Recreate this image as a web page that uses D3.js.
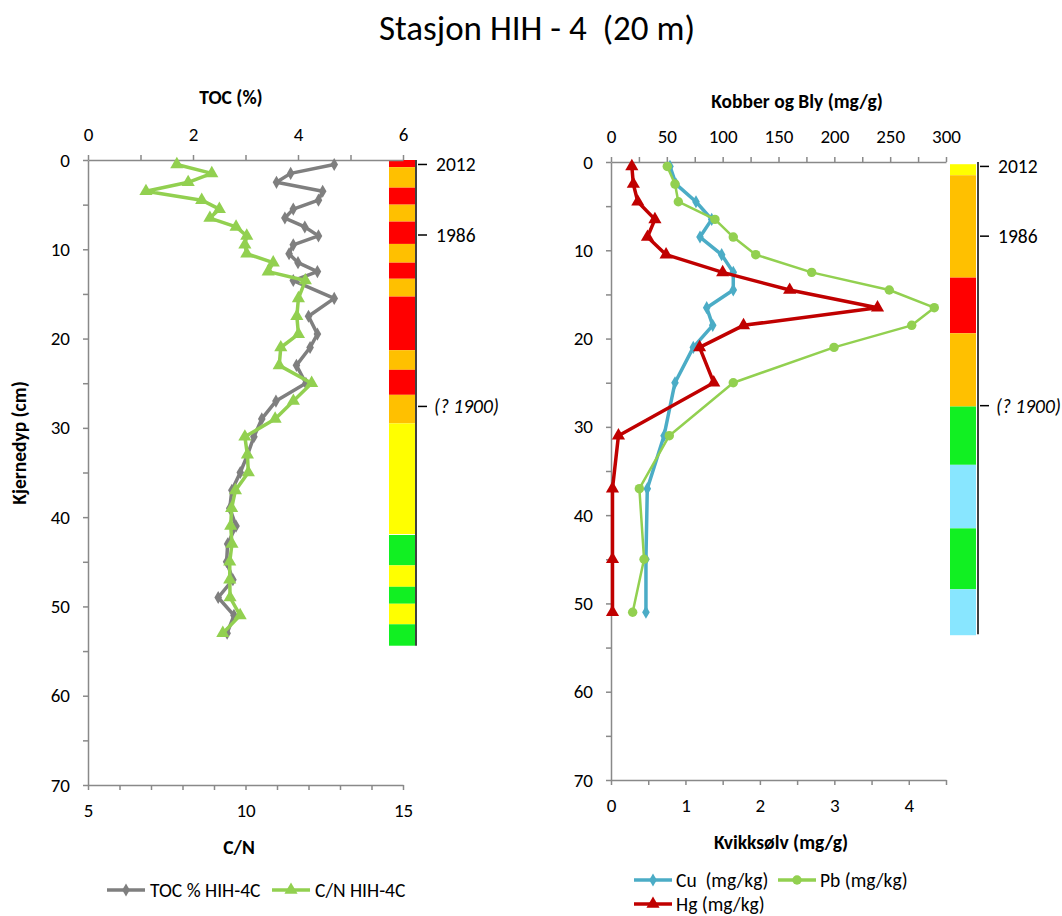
<!DOCTYPE html>
<html><head><meta charset="utf-8">
<script src="https://cdn.jsdelivr.net/npm/d3@7"></script>
<style>
body{margin:0;background:#fff;}
text{font-family:Calibri,Carlito,Lato,"Noto Sans",sans-serif;fill:#000;white-space:pre;}
</style></head>
<body><svg id="c" width="1062" height="916"></svg>
<script>
// ---------- DATA ----------
const title = "Stasjon HIH - 4  (20 m)";
// Left panel: TOC (%) and C/N versus depth (cm)
const leftDepth = [0.5,1.5,2.5,3.5,4.5,5.5,6.5,7.5,8.5,9.5,10.5,11.5,12.5,13.5,15.5,17.5,19.5,21,23,25,27,29,31,33,35,37,39,41,43,45,47,49,51,53];
const tocValues = [4.69,3.86,3.59,4.47,4.39,3.91,3.75,4.13,4.39,3.91,3.83,4.0,4.37,3.91,4.69,4.20,4.37,4.23,3.97,4.15,3.58,3.31,3.16,3.04,2.90,2.74,2.70,2.82,2.66,2.64,2.76,2.48,2.78,2.65];
const cnValues  = [7.82,8.93,8.18,6.84,8.61,9.17,8.87,9.70,10.04,9.98,10.04,10.88,10.72,11.9,11.68,11.63,11.68,11.12,11.07,12.10,11.52,10.94,9.98,10.06,10.09,9.68,9.56,9.53,9.57,9.50,9.50,9.51,9.83,9.28];
// Right panel: Cu, Pb (top axis) and Hg (bottom axis) versus depth
const metalDepth = [0.5,2.5,4.5,6.5,8.5,10.5,12.5,14.5,16.5,18.5,21,25,31,37,45,51];
const cuValues = [52.8,58.2,76.1,90.2,79.7,99.1,109.5,109.5,85.7,91.1,73.7,57.3,47.5,32.5,31.3,31.3];
const pbValues = [50.4,57.3,60.3,93.1,109.5,129.6,179.7,249.2,289.5,269.3,199.7,109.5,52.2,25.4,29.6,19.4];
const hgValues = [0.28,0.30,0.36,0.59,0.49,0.74,1.50,2.40,3.58,1.78,1.19,1.38,0.10,0.02,0.02,0.02];
// Condition class bars (depth intervals)
const leftZoneTop    = [0,0.8,3.1,5,6.9,9.4,11.5,13.3,15.3,21.3,23.5,26.3,29.5,42,45.4,47.8,49.7,52];
const leftZoneBottom = [0.8,3.1,5,6.9,9.4,11.5,13.3,15.3,21.3,23.5,26.3,29.5,41.9,45.4,47.8,49.7,52,54.4];
const leftZoneClass  = ["r","o","r","o","r","o","r","o","r","o","r","o","y","g","y","g","y","g"];
const rightZoneTop    = [0.25,1.5,13.1,19.4,27.7,34.3,41.5,48.4];
const rightZoneBottom = [1.5,13.1,19.4,27.7,34.3,41.5,48.4,53.6];
const rightZoneClass  = ["y","o","r","o","g","c","g","c"];
const yearLabels = ["2012","1986","(? 1900)"];
const yearDepth  = [0.5,8.4,27.6];
// Axis ticks
const depthTicks = d3.range(0,71,5);
const tocTicks = d3.range(0,7,1);
const cnTicks = d3.range(5,16,1);
const cuPbTicks = d3.range(0,301,25);
const hgTicks = d3.range(0,4.51,0.5);
const legendLeft = ["TOC % HIH-4C","C/N HIH-4C"];
const legendRight = ["Cu  (mg/kg)","Pb (mg/kg)","Hg (mg/kg)"];

// ---------- STYLE ----------
const zoneColor = {r:"#FF0000",o:"#FFC000",y:"#FFFF00",g:"#11F022",c:"#88E6FF"};
const cGray="#7F7F7F", cGreen="#92D050", cBlue="#4BACC6", cRed="#C00000", axisCol="#898989";
const labelSize = "19px", titleSize = "19.5px", legendSize = "19.5px";

const svg = d3.select("#c");
svg.append("text").attr("x",537).attr("y",40).attr("text-anchor","middle")
  .style("font-size","35px").text(title);

function styleAxis(g){
  g.select(".domain").attr("stroke",axisCol).attr("stroke-width",1.5);
  g.selectAll(".tick line").attr("stroke",axisCol).attr("stroke-width",1.5);
  g.selectAll(".tick text").style("font-size",labelSize).attr("fill","#000")
    .style("font-family","Calibri,Carlito,Lato,'Noto Sans',sans-serif");
}
function marker(sel, type, color, size){
  if(type==="diamond") return sel.append("path").attr("d",d3.symbol(d3.symbolDiamond, size||45)()).attr("fill",color);
  if(type==="triangle") return sel.append("path").attr("d",d3.symbol(d3.symbolTriangle, size||70)()).attr("fill",color);
  return sel.append("path").attr("d",d3.symbol(d3.symbolCircle, size||60)()).attr("fill",color);
}
function series(g, xs, ys, xScale, yScale, color, width, type, msize){
  const pts = xs.map((v,i)=>[xScale(v), yScale(ys[i])]);
  g.append("path").attr("d",d3.line()(pts)).attr("fill","none").attr("stroke",color)
    .attr("stroke-width",width).attr("stroke-linejoin","round");
  pts.forEach(p=>{ marker(g.append("g").attr("transform",`translate(${p[0]},${p[1]})`), type, color, msize); });
}
function zones(tops,bottoms,classes,yScale,x0,w){
  tops.forEach((t,i)=>{
    svg.append("rect").attr("x",x0).attr("width",w).attr("y",yScale(t))
      .attr("height",yScale(bottoms[i])-yScale(t)).attr("fill",zoneColor[classes[i]]);
  });
}
function years(yScale, lineX, endDepth){
  svg.append("line").attr("x1",lineX).attr("x2",lineX).attr("y1",yScale(0)).attr("y2",yScale(endDepth))
    .attr("stroke","#000").attr("stroke-width",1.5);
  yearLabels.forEach((t,i)=>{
    const y=yScale(yearDepth[i]);
    svg.append("line").attr("x1",lineX+2).attr("x2",lineX+11).attr("y1",y).attr("y2",y).attr("stroke","#000").attr("stroke-width",1.5);
    svg.append("text").attr("x",lineX+ (i===2?18:20)).attr("y",y+7).style("font-size",legendSize)
      .style("font-style",i===2?"italic":"normal").text(t);
  });
}

// ---------- LEFT PANEL ----------
const yL = d3.scaleLinear().domain([0,70]).range([160,785]);
const xToc = d3.scaleLinear().domain([0,6]).range([88,403]);
const xCN = d3.scaleLinear().domain([5,15]).range([88,403]);

zones(leftZoneTop,leftZoneBottom,leftZoneClass,yL,389,26);
years(yL,416,54.4);

styleAxis(svg.append("g").attr("transform","translate(88,0)")
  .call(d3.axisLeft(yL).tickValues(depthTicks).tickSize(5).tickSizeOuter(0).tickPadding(13)
  .tickFormat(d=>d%10===0?d:"")));
styleAxis(svg.append("g").attr("transform","translate(0,160)")
  .call(d3.axisTop(xToc).tickValues(tocTicks).tickSize(5).tickSizeOuter(0).tickPadding(14)
  .tickFormat(d=>d%2===0?d:"")));
styleAxis(svg.append("g").attr("transform","translate(0,785)")
  .call(d3.axisBottom(xCN).tickValues(cnTicks).tickSize(5).tickSizeOuter(0).tickPadding(14)
  .tickFormat(d=>d%5===0?d:"")));

const gL = svg.append("g");
series(gL, tocValues, leftDepth, xToc, yL, cGray, 3.5, "diamond", 50);
series(gL, cnValues, leftDepth, xCN, yL, cGreen, 3.5, "triangle", 75);

svg.append("text").attr("x",231).attr("y",104).attr("text-anchor","middle").style("font-weight","bold").style("font-size",titleSize).text("TOC (%)");
svg.append("text").attr("x",239).attr("y",854).attr("text-anchor","middle").style("font-weight","bold").style("font-size",titleSize).text("C/N");
svg.append("text").attr("transform","translate(26,443) rotate(-90)").attr("text-anchor","middle").style("font-weight","bold").style("font-size",titleSize).text("Kjernedyp (cm)");

// left legend
[[107,cGray,"diamond",50,150],[272,cGreen,"triangle",75,315]].forEach((d,i)=>{
  svg.append("line").attr("x1",d[0]).attr("x2",d[0]+38).attr("y1",890).attr("y2",890).attr("stroke",d[1]).attr("stroke-width",3.5);
  marker(svg.append("g").attr("transform",`translate(${d[0]+19},890)`), d[2], d[1], d[3]);
  svg.append("text").attr("x",d[4]).attr("y",897).style("font-size",legendSize).text(legendLeft[i]);
});

// ---------- RIGHT PANEL ----------
const yR = d3.scaleLinear().domain([0,70]).range([162,780]);
const xCuPb = d3.scaleLinear().domain([0,300]).range([611,946]);
const xHg = d3.scaleLinear().domain([0,4.5]).range([611,946]);

zones(rightZoneTop,rightZoneBottom,rightZoneClass,yR,950,26);
years(yR,978,53.5);

styleAxis(svg.append("g").attr("transform","translate(611,0)")
  .call(d3.axisLeft(yR).tickValues(depthTicks).tickSize(5).tickSizeOuter(0).tickPadding(13)
  .tickFormat(d=>d%10===0?d:"")));
styleAxis(svg.append("g").attr("transform","translate(0,162)")
  .call(d3.axisTop(xCuPb).tickValues(cuPbTicks).tickSize(5).tickSizeOuter(0).tickPadding(14)
  .tickFormat(d=>d%50===0?d:"")));
styleAxis(svg.append("g").attr("transform","translate(0,780)")
  .call(d3.axisBottom(xHg).tickValues(hgTicks).tickSize(5).tickSizeOuter(0).tickPadding(14)
  .tickFormat(d=>Number.isInteger(d)?d:"")));

const gR = svg.append("g");
series(gR, cuValues, metalDepth, xCuPb, yR, cBlue, 3.5, "diamond", 50);
series(gR, pbValues, metalDepth, xCuPb, yR, cGreen, 2.5, "circle", 70);
series(gR, hgValues, metalDepth, xHg, yR, cRed, 3.5, "triangle", 75);

svg.append("text").attr("x",797).attr("y",108).attr("text-anchor","middle").style("font-weight","bold").style("font-size",titleSize).text("Kobber og Bly (mg/g)");
svg.append("text").attr("x",781).attr("y",849).attr("text-anchor","middle").style("font-weight","bold").style("font-size",titleSize).text("Kvikksølv (mg/g)");

// right legend
[[634,880,cBlue,"diamond",50],[778,880,cGreen,"circle",70],[634,904,cRed,"triangle",75]].forEach((d,i)=>{
  svg.append("line").attr("x1",d[0]).attr("x2",d[0]+38).attr("y1",d[1]).attr("y2",d[1]).attr("stroke",d[2]).attr("stroke-width",3.5);
  marker(svg.append("g").attr("transform",`translate(${d[0]+19},${d[1]})`), d[3], d[2], d[4]);
  svg.append("text").attr("x",d[0]+42).attr("y",d[1]+7).style("font-size",legendSize).text(legendRight[i]);
});
</script></body></html>
